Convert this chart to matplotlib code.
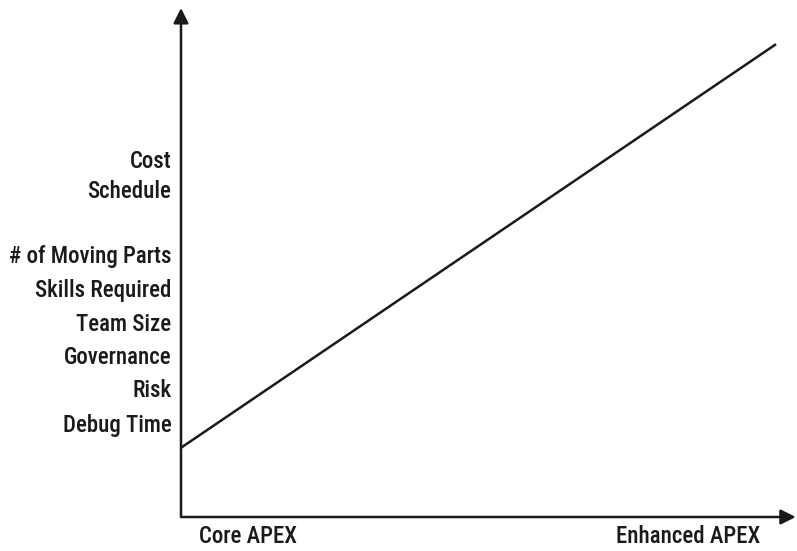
import matplotlib.pyplot as plt
from matplotlib import font_manager

# factors on the y axis (top to bottom) and their heights on a 0-100 scale
factors = ["Cost", "Schedule", "# of Moving Parts", "Skills Required",
           "Team Size", "Governance", "Risk", "Debug Time"]
factor_pos = [70.3, 64.4, 51.7, 45.0, 38.3, 31.8, 25.3, 18.5]

# x-axis end labels
x_labels = ["Core APEX", "Enhanced APEX"]

# the single trend line (x, y on 0-100 scales)
line_x = [0.0, 96.6]
line_y = [13.6, 92.9]

# pick a condensed face if one is installed
fonts = font_manager.fontManager.ttflist
names = {f.name for f in fonts}
stretch = "normal"
family = "DejaVu Sans"
for cand in ["Liberation Sans Narrow", "Roboto Condensed", "Open Sans Condensed",
             "DejaVu Sans Condensed", "Noto Sans Condensed"]:
    if cand in names:
        family = cand
        break
else:
    for fam in ["Roboto", "Noto Sans", "Open Sans", "DejaVu Sans", "Liberation Sans"]:
        if any(f.name == fam and f.stretch in ("condensed", "semi-condensed", 62.5, 75, 87.5)
               for f in fonts):
            family, stretch = fam, "condensed"
            break
plt.rcParams["font.family"] = [family, "DejaVu Sans"]
plt.rcParams["font.stretch"] = stretch
condensed = family != "DejaVu Sans" or stretch == "condensed"
fs = 16.5 if condensed else 13.5

W, H = 797, 551
fig = plt.figure(figsize=(W / 100, H / 100), dpi=100)
ax_l, ax_r, ax_t, ax_b = 181, 797, 8, 517
ax = fig.add_axes([ax_l / W, 1 - ax_b / H, (ax_r - ax_l) / W, (ax_b - ax_t) / H])
ax.set_xlim(0, 100)
ax.set_ylim(0, 100)
for s in ax.spines.values():
    s.set_visible(False)

ax.plot(line_x, line_y, color="#1a1a1a", lw=1.8, solid_capstyle="butt")

# axes with arrow heads
arrow = dict(arrowstyle="-|>,head_length=0.9,head_width=0.45", color="#1a1a1a", lw=1.8,
             shrinkA=0, shrinkB=0)
ax.annotate("", xy=(0, 1), xytext=(0, 0), xycoords="axes fraction", arrowprops=arrow)
ax.annotate("", xy=(0.998, 0), xytext=(0, 0), xycoords="axes fraction", arrowprops=arrow)

ax.set_yticks(factor_pos)
ax.set_yticklabels(factors, fontsize=fs, color="#1a1a1a", fontweight="medium")
ax.tick_params(axis="y", length=0, pad=7)
ax.set_xticks([])

ax.text(3.0, -3.9, x_labels[0], ha="left", va="center", fontsize=fs, color="#1a1a1a",
        fontweight="medium", transform=ax.transData, clip_on=False)
ax.text(94.0, -3.9, x_labels[1], ha="right", va="center", fontsize=fs, color="#1a1a1a",
        fontweight="medium", transform=ax.transData, clip_on=False)

fig.savefig("out.png", dpi=100, facecolor="white")
